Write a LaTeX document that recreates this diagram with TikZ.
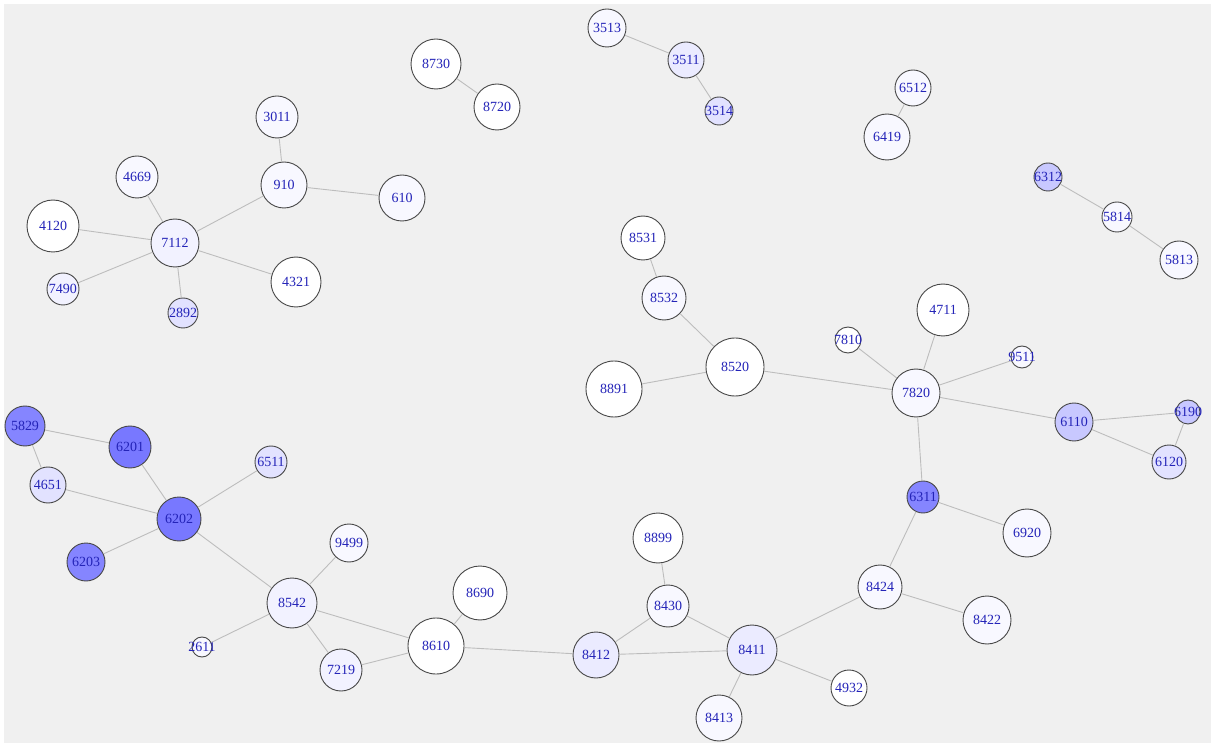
\documentclass[tikz,border=0pt]{standalone}
\usepackage{fontspec}
\setmainfont{Liberation Serif}
\definecolor{bgc}{HTML}{F0F0F0}
\definecolor{edgec}{HTML}{BDBDBD}
\definecolor{rimc}{HTML}{484848}
\definecolor{txtc}{HTML}{2424B8}
\definecolor{cA}{HTML}{FFFFFF}
\definecolor{cB}{HTML}{F8F8FF}
\definecolor{cC}{HTML}{F2F2FF}
\definecolor{cD}{HTML}{EBEBFF}
\definecolor{cE}{HTML}{E2E2FF}
\definecolor{cF}{HTML}{C8C8FF}
\definecolor{cG}{HTML}{8585FF}
\definecolor{cH}{HTML}{7878FF}
\tikzset{
  gnode/.style={circle, draw=rimc, line width=0.9pt, inner sep=0pt, text=txtc, font=\fontsize{14}{14}\selectfont},
  gedge/.style={draw=edgec, line width=0.9pt}
}
\newcommand\gnd[5]{\node[gnode, minimum size=#4pt, fill=#5] (n#1) at (#2pt,-#3pt) {\makebox[0pt][c]{#1}};}
\begin{document}
\begin{tikzpicture}
\fill[white] (0pt,0pt) rectangle (1211pt,-743pt);
\fill[bgc] (4pt,-4pt) rectangle (1211pt,-743pt);
\useasboundingbox (0pt,0pt) rectangle (1211pt,-743pt);
% top cluster
\gnd{3513}{607}{28}{38}{cB}
\gnd{3511}{686}{60}{36}{cD}
\gnd{3514}{719}{111}{28}{cE}
\gnd{8730}{436}{64}{50}{cA}
\gnd{8720}{497}{107}{46}{cA}
% left-top cluster
\gnd{3011}{277}{117}{42}{cB}
\gnd{910}{284}{185}{46}{cB}
\gnd{610}{402}{198}{46}{cB}
\gnd{4669}{137}{177}{42}{cB}
\gnd{4120}{53}{226}{52}{cA}
\gnd{7112}{175}{243}{48}{cC}
\gnd{4321}{296}{282}{50}{cA}
\gnd{7490}{63}{289}{32}{cC}
\gnd{2892}{183}{313}{30}{cE}
% right top
\gnd{6512}{913}{88}{36}{cB}
\gnd{6419}{887}{137}{46}{cB}
\gnd{6312}{1048}{177}{28}{cF}
\gnd{5814}{1117}{217}{30}{cB}
\gnd{5813}{1179}{260}{38}{cB}
% middle right
\gnd{8531}{643}{238}{44}{cA}
\gnd{8532}{664}{298}{44}{cB}
\gnd{8520}{735}{367}{58}{cA}
\gnd{8891}{614}{389}{56}{cA}
\gnd{4711}{943}{310}{52}{cA}
\gnd{7810}{848}{340}{26}{cA}
\gnd{9511}{1022}{357}{22}{cB}
\gnd{7820}{916}{393}{48}{cB}
\gnd{6110}{1074}{422}{38}{cF}
\gnd{6190}{1188}{412}{24}{cF}
\gnd{6120}{1169}{462}{34}{cE}
\gnd{6311}{923}{497}{32}{cG}
\gnd{6920}{1027}{533}{48}{cB}
\gnd{8424}{880}{587}{44}{cB}
\gnd{8422}{987}{620}{48}{cB}
% bottom middle
\gnd{8899}{658}{538}{50}{cA}
\gnd{8430}{668}{606}{42}{cB}
\gnd{8412}{596}{655}{46}{cD}
\gnd{8411}{752}{650}{50}{cD}
\gnd{8413}{719}{718}{46}{cB}
\gnd{4932}{849}{688}{36}{cA}
% bottom left
\gnd{9499}{349}{543}{38}{cB}
\gnd{8542}{292}{603}{50}{cC}
\gnd{8690}{480}{593}{54}{cA}
\gnd{8610}{436}{646}{56}{cA}
\gnd{7219}{341}{670}{42}{cC}
\gnd{2611}{202}{647}{20}{cB}
\gnd{5829}{25}{426}{40}{cG}
\gnd{6201}{130}{447}{42}{cH}
\gnd{4651}{48}{485}{36}{cE}
\gnd{6202}{179}{519}{44}{cH}
\gnd{6511}{271}{462}{32}{cE}
\gnd{6203}{86}{562}{38}{cG}
% edges
\foreach \a/\b in {3513/3511, 3511/3514, 8730/8720, 3011/910, 910/610, 910/7112,
  4669/7112, 4120/7112, 7112/4321, 7112/7490, 7112/2892, 6512/6419, 6312/5814, 5814/5813,
  8531/8532, 8532/8520, 8891/8520, 8520/7820, 4711/7820, 7810/7820, 9511/7820, 7820/6110,
  6110/6190, 6110/6120, 6190/6120, 7820/6311, 6311/6920, 6311/8424, 8424/8422, 8424/8411,
  8411/4932, 8411/8413, 8411/8430, 8411/8412, 8430/8412, 8430/8899, 8412/8610, 8610/8690,
  8610/8542, 8610/7219, 8542/7219, 8542/9499, 8542/2611, 8542/6202, 6202/6201, 6202/4651,
  6202/6203, 6202/6511, 5829/6201, 5829/4651}
  \draw[gedge] (n\a) -- (n\b);
\end{tikzpicture}
\end{document}
